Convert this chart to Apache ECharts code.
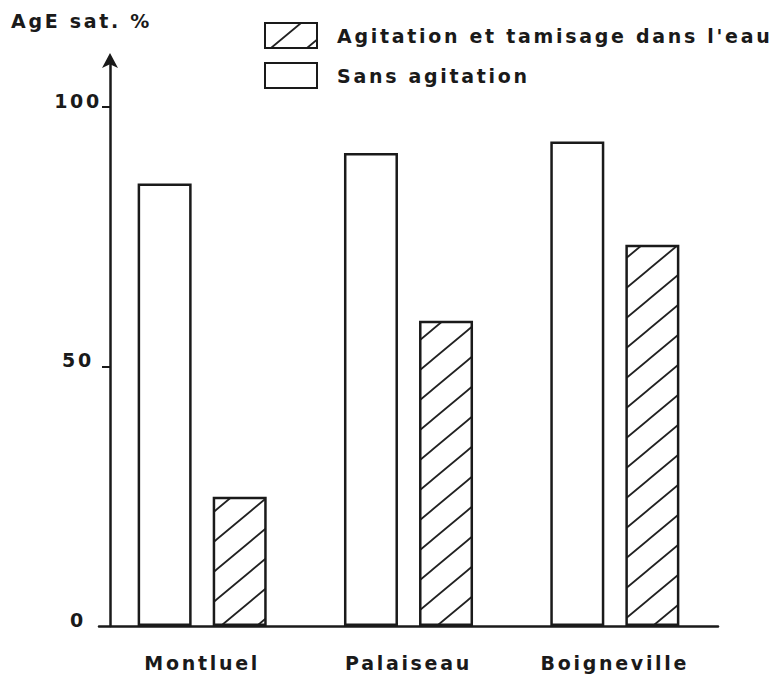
<!DOCTYPE html>
<html>
<head>
<meta charset="utf-8">
<script src="https://cdn.jsdelivr.net/npm/echarts@6/dist/echarts.min.js"></script>
<style>
  html, body { margin: 0; padding: 0; background: #fff; }
  #chart { width: 777px; height: 681px; }
  #chart svg text { letter-spacing: 2.7px; }
</style>
</head>
<body>
<div id="chart"></div>
<script>
const categories = ['Montluel', 'Palaiseau', 'Boigneville'];
const sansAgitation = [85.2, 91.1, 93.3];
const agitationTamisage = [24.9, 58.8, 73.4];
const yLabelValues = [0, 50, 100];
const yTickValues = [50, 100];
const seriesNames = ["Agitation et tamisage dans l'eau", 'Sans agitation'];
const yTitle = 'AgE sat. %';

// hatch pattern tile
const tile = document.createElement('canvas');
tile.width = 36; tile.height = 30;
const tc = tile.getContext('2d');
tc.fillStyle = '#fff';
tc.fillRect(0, 0, 36, 30);
tc.strokeStyle = '#222';
tc.lineWidth = 1.8;
tc.beginPath();
tc.moveTo(-6, 35); tc.lineTo(42, -5);
tc.moveTo(-6, 5); tc.lineTo(6, -5);
tc.moveTo(30, 35); tc.lineTo(42, 25);
tc.stroke();
const hatch = { image: tile, repeat: 'repeat' };

const FONT = "'DejaVu Sans', Verdana, sans-serif";
const INK = '#1a1a1a';
const FS = 19;

const chart = echarts.init(document.getElementById('chart'), null, { renderer: 'svg' });
chart.setOption({
  animation: false,
  backgroundColor: '#fff',
  title: {
    text: yTitle,
    left: 11, top: 11, padding: 0,
    textStyle: { fontFamily: FONT, fontWeight: 'bold', fontSize: FS, color: INK }
  },
  legend: {
    data: seriesNames,
    orient: 'vertical',
    left: 264, top: 22, padding: 0,
    itemWidth: 52, itemHeight: 25, itemGap: 13,
    icon: 'rect',
    textStyle: { fontFamily: FONT, fontWeight: 'bold', fontSize: FS, color: INK, padding: [0, 0, 0, 15] }
  },
  grid: { left: 99, right: 59, top: 60, bottom: 55, containLabel: false },
  xAxis: {
    type: 'category',
    data: categories,
    axisLine: { lineStyle: { color: INK, width: 2.5 } },
    axisTick: { show: false },
    axisLabel: { margin: 27, fontFamily: FONT, fontWeight: 'bold', fontSize: FS, color: INK }
  },
  yAxis: {
    type: 'value',
    min: 0, max: 109,
    offset: -11,
    splitLine: { show: false },
    axisLine: { show: true, symbol: ['none', 'arrow'], symbolSize: [12, 15], symbolOffset: [0, 7], lineStyle: { color: INK, width: 2.5 } },
    axisTick: { show: true, length: 8, customValues: yTickValues, lineStyle: { color: INK, width: 2 } },
    axisLabel: {
      customValues: yLabelValues,
      align: 'center', margin: 32,
      verticalAlign: 'bottom', lineHeight: 12,
      fontFamily: FONT, fontWeight: 'bold', fontSize: FS, color: INK
    }
  },
  series: [
    {
      name: seriesNames[1], type: 'bar', data: sansAgitation,
      barWidth: 54, barGap: '39%',
      itemStyle: { color: '#fff', borderColor: INK, borderWidth: 2.5 }
    },
    {
      name: seriesNames[0], type: 'bar', data: agitationTamisage,
      barWidth: 54, barGap: '39%',
      itemStyle: { color: hatch, borderColor: INK, borderWidth: 2.5 }
    }
  ]
});
</script>
</body>
</html>
